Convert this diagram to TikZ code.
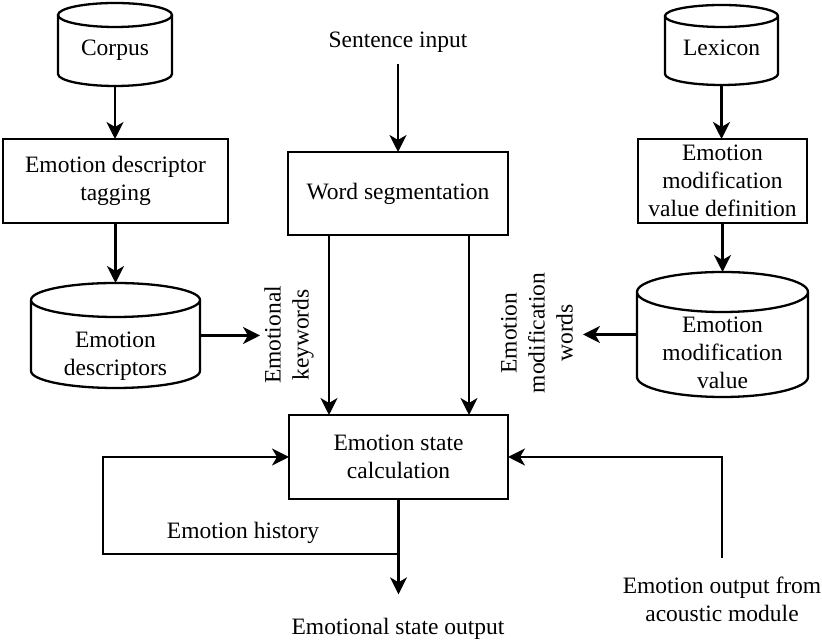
\documentclass[tikz,border=0pt]{standalone}
\usepackage{fontspec}
\setmainfont{LiberationSerif-Regular.ttf}
\usetikzlibrary{arrows.meta,calc}
\newcommand\drawcyl[2]{%
  \draw let \p1=(#1.north west), \p2=(#1.south east), \n1={(\x2-\x1)/2} in
    (\x1,\y1-#2pt) -- (\x1,\y2+#2pt)
    arc[start angle=180,end angle=360,x radius=\n1,y radius=#2pt]
    -- (\x2,\y1-#2pt)
    arc[start angle=0,end angle=180,x radius=\n1,y radius=#2pt]
    arc[start angle=180,end angle=360,x radius=\n1,y radius=#2pt];}
\begin{document}
\begin{tikzpicture}[x=1pt,y=1pt,line width=2.3pt,
  every node/.style={font=\fontsize{23.5}{28}\selectfont,align=center,inner sep=0pt,outer sep=0pt},
  box/.style={draw},
  cylbox/.style={},
  arr/.style={-{Stealth[length=17pt,width=17pt,inset=5pt]}}]
\fill[white] (0,0) rectangle (822,642);
\useasboundingbox (0,0) rectangle (822,642);

% left column
\node[cylbox,minimum width=114,minimum height=83] (corpus) at (115,597.5) {};
\drawcyl{corpus}{12}
\node (corpusT) at (115,592) {Corpus};
\node[box,minimum width=225,minimum height=84] (tag) at (115.5,461) {Emotion descriptor\\tagging};
\node[cylbox,minimum width=169,minimum height=105] (desc) at (115.5,306.5) {};
\drawcyl{desc}{17}
\node (descT) at (115.5,286) {Emotion\\descriptors};
\coordinate (kwtip) at (260,306.5);

% middle column
\node (sent) at (398,600) {Sentence input};
\node[box,minimum width=220,minimum height=83] (seg) at (398,448.5) {Word segmentation};
\node[box,minimum width=219,minimum height=84] (state) at (398.5,185) {Emotion state\\calculation};
\node[rotate=90] (kw) at (289,307) {Emotional\\keywords};
\node[rotate=90] (mw) at (537,309) {Emotion\\modification\\words};
\node (hist) at (243,109) {Emotion history};
\node (out) at (398,13) {Emotional state output};
\node (acou) at (722,43) {Emotion output from\\acoustic module};

% right column
\node[cylbox,minimum width=113,minimum height=80] (lex) at (721.5,597) {};
\drawcyl{lex}{11}
\node (lexT) at (721.5,594) {Lexicon};
\node[box,minimum width=169,minimum height=84] (def) at (722.5,461) {Emotion\\modification\\value definition};
\node[cylbox,minimum width=171,minimum height=125] (val) at (722.5,307.5) {};
\drawcyl{val}{20}
\node (valT) at (722.5,289) {Emotion\\modification\\value};
\coordinate (mwtip) at (583,307.5);

% helper coordinates
\coordinate (k1) at ($(seg.south west)+(41,0)$);
\coordinate (k2) at ($(seg.south west)+(181,0)$);
\coordinate (hj) at (398.5,88);
\coordinate (lp) at (103,185);
\coordinate (ac) at (722,84);

% connectors
\draw[arr] (corpus.south) -- (corpus.south |- tag.north);
\draw[arr] (tag.south) -- (tag.south |- desc.north);
\draw[arr] (desc.east) -- (desc.east -| kwtip);
\draw[arr,shorten <=12pt] (sent.south) -- (sent.south |- seg.north);
\draw[arr] (k1) -- (k1 |- state.north);
\draw[arr] (k2) -- (k2 |- state.north);
\draw[arr] (lex.south) -- (lex.south |- def.north);
\draw[arr] (def.south) -- (def.south |- val.north);
\draw[arr] (val.west) -- (val.west -| mwtip);
\draw[arr,shorten >=24pt] (state.south) -- (state.south |- out.north);
\draw[arr] (state.south |- hj) -| (lp) -- (state.west);
\draw[arr] (ac) |- (state.east);
\end{tikzpicture}
\end{document}
